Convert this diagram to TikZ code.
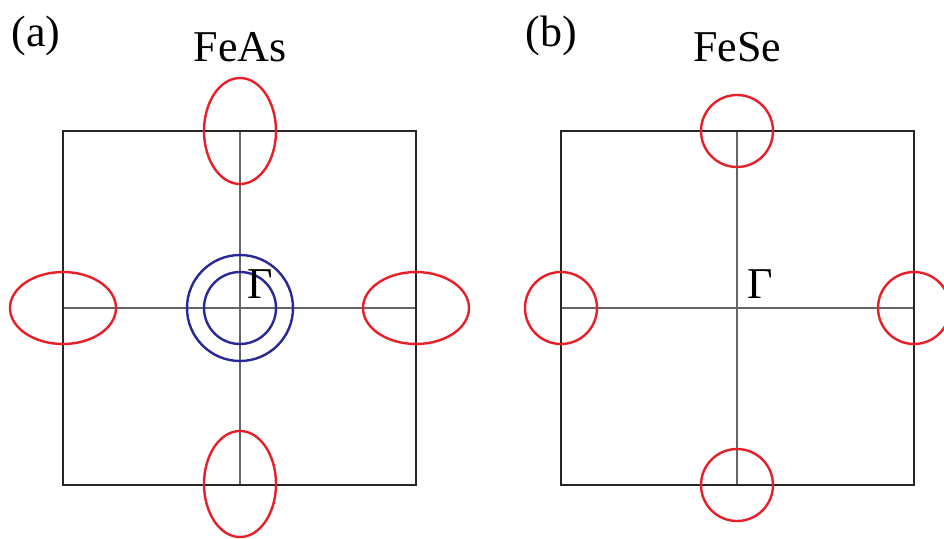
\documentclass[tikz,border=0pt]{standalone}
\usepackage{fontspec}
\setmainfont{Liberation Serif}
\definecolor{fsred}{RGB}{232,30,40}
\definecolor{fsblue}{RGB}{40,40,150}
\begin{document}
\begin{tikzpicture}[x=1pt,y=-1pt,
  bz/.style={draw=black!85,line width=2.6pt},
  axis/.style={draw=black!60,line width=1.1pt},
  pocket/.style={draw=fsred,line width=2.4pt},
  hole/.style={draw=fsblue,line width=2.4pt},
  lbl/.style={font=\fontsize{44}{48}\selectfont,inner sep=0pt}]
\useasboundingbox (0,0) rectangle (944,538);
\clip (0,0) rectangle (944,538);
% panel (a)
\draw[axis] (240,131) -- (240,485);
\draw[axis] (63,308) -- (416,308);
\draw[bz] (63,131) rectangle (416,485);
\draw[pocket] (240,131) ellipse [x radius=36,y radius=53];
\draw[pocket] (240,484) ellipse [x radius=36,y radius=53];
\draw[pocket] (63,308) ellipse [x radius=53,y radius=36];
\draw[pocket] (416,308) ellipse [x radius=53,y radius=36];
\draw[hole] (240,308) circle [radius=53];
\draw[hole] (240,308) circle [radius=36];
\node[lbl] (ga) at (260,284) {Γ};
\node[lbl] (la) at (36,36) {(a)};
\node[lbl] (ta) at (240,47) {FeAs};
% panel (b)
\draw[axis] (737,131) -- (737,485);
\draw[axis] (561,308) -- (914,308);
\draw[bz] (561,131) rectangle (914,485);
\draw[pocket] (737,131) circle [radius=36];
\draw[pocket] (737,485) circle [radius=36];
\draw[pocket] (561,308) circle [radius=36];
\draw[pocket] (914,308) circle [radius=36];
\node[lbl] (gb) at (760,284) {Γ};
\node[lbl] (lb) at (551,36) {(b)};
\node[lbl] (tb) at (737,47) {FeSe};
\end{tikzpicture}
\end{document}
